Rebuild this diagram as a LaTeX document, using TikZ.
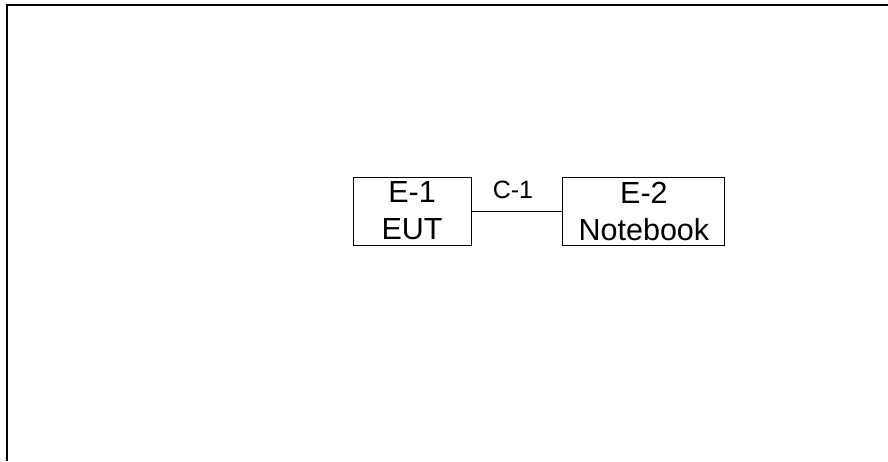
\documentclass[tikz,border=0pt]{standalone}
\usepackage{fontspec}
\setmainfont{Liberation Sans}
\usetikzlibrary{positioning}
\tikzstyle{Box} = [
draw, line width=0.9pt, inner sep=0pt, align=center,
minimum height=68pt,
font=\fontsize{30.5}{37}\selectfont]

\begin{document}
\begin{tikzpicture}[x=1pt, y=1pt]
    \useasboundingbox (0,0) rectangle (888,-461);
    \draw[line width=1.6pt] (7,-461) -- (7,-5) -- (888,-5);
    \node (eut) at (412,-211) [Box, minimum width=118pt] {E-1\\EUT};
    \node [right =91pt of eut, Box, minimum width=162pt] (notebook) {E-2\\Notebook};
    \draw[line width=0.9pt] (eut) to node [above=8pt, font=\fontsize{25}{30}\selectfont, xshift=-4pt] (c1) {C-1} (notebook);
\end{tikzpicture}
\end{document}
